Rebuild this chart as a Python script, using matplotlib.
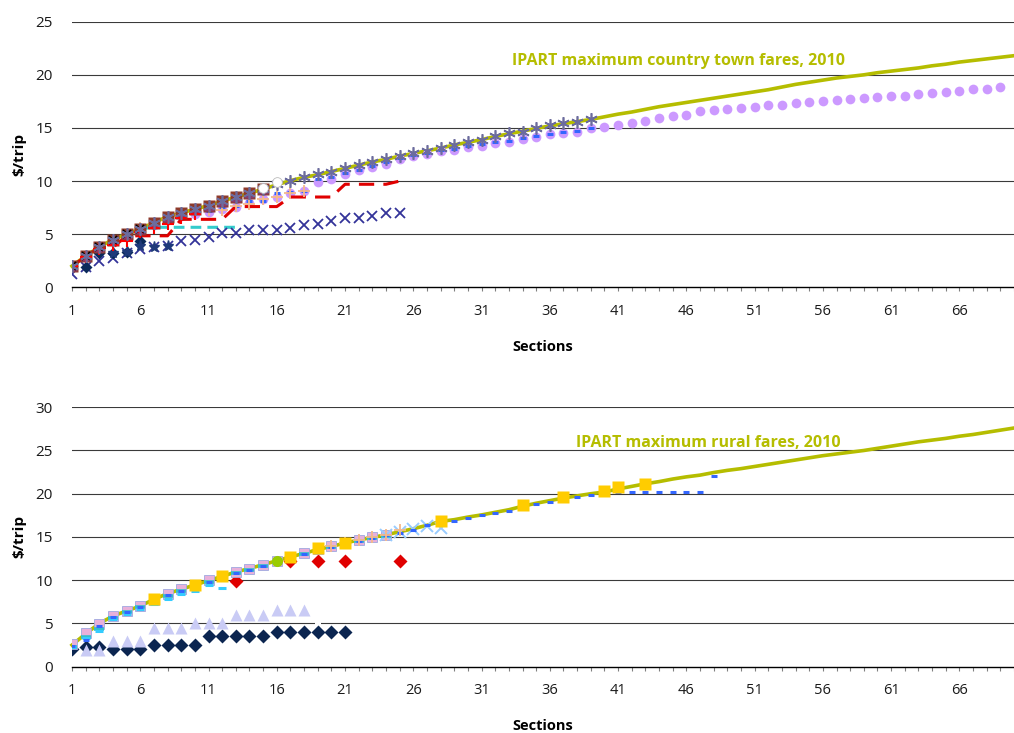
import matplotlib
matplotlib.use("Agg")
import matplotlib.pyplot as plt

plt.rcParams['font.family'] = ['Open Sans', 'DejaVu Sans']

# ---------------- top chart: country town fares ----------------
sections = list(range(1, 71))
ipart_country = [2.0, 2.95, 3.8, 4.5, 5.0, 5.5, 6.1, 6.65, 7.0, 7.35,
                 7.7, 8.1, 8.5, 8.85, 9.25, 9.65, 10.05, 10.35, 10.6, 10.9,
                 11.2, 11.5, 11.8, 12.05, 12.35, 12.6, 12.85, 13.1, 13.4, 13.65,
                 13.9, 14.2, 14.45, 14.7, 14.95, 15.2, 15.4, 15.6, 15.8, 16.05,
                 16.3, 16.5, 16.75, 17.0, 17.2, 17.4, 17.6, 17.8, 18.0, 18.2,
                 18.4, 18.6, 18.85, 19.1, 19.3, 19.5, 19.7, 19.85, 20.0, 20.2,
                 20.35, 20.5, 20.65, 20.85, 21.0, 21.2, 21.35, 21.5, 21.65, 21.8]

circle_x = list(range(6, 70))
circle_y = [5.4, 5.9, 6.3, 6.7, 6.9,
            7.1, 7.35, 7.55, 7.9, 8.3, 8.5, 8.9, 9.1, 9.95, 10.2,
            10.7, 11.0, 11.35, 11.65, 12.1, 12.4, 12.55, 12.85, 12.95, 13.2,
            13.3, 13.6, 13.7, 13.95, 14.15, 14.4, 14.5, 14.65, 14.95, 15.05,
            15.3, 15.45, 15.7, 15.9, 16.1, 16.25, 16.55, 16.7, 16.8, 16.85,
            17.0, 17.15, 17.2, 17.35, 17.4, 17.5, 17.6, 17.7, 17.8, 17.9,
            18.0, 18.05, 18.2, 18.3, 18.4, 18.5, 18.65, 18.7, 18.85]

star_x = list(range(1, 40))
star_y = [2.0, 2.95, 3.8, 4.5, 5.0, 5.5, 6.1, 6.65, 7.0, 7.4,
          7.7, 8.1, 8.5, 8.9, 9.3, 9.7, 10.05, 10.4, 10.65, 10.9,
          11.2, 11.5, 11.8, 12.1, 12.35, 12.6, 12.85, 13.15, 13.4, 13.7,
          13.85, 14.25, 14.55, 14.65, 14.95, 15.25, 15.45, 15.6, 15.8]

square_x = list(range(1, 16))
square_y = [2.05, 2.95, 3.8, 4.5, 5.0, 5.5, 6.1, 6.65, 7.0, 7.35, 7.7, 8.1, 8.5, 8.85, 9.25]
triangle_y = [2.05, 2.95, 3.8, 4.5, 5.0, 5.5, 6.1, 6.65, 7.0, 7.35, 7.7, 8.1, 8.5, 8.85, 9.25]

redplus_x = list(range(1, 11))
redplus_y = [2.0, 2.9, 3.6, 4.0, 4.4, 5.2, 5.6, 6.0, 6.5, 6.9]

reddash_x = list(range(1, 26))
reddash_y = [2.0, 2.9, 3.75, 3.75, 4.85, 4.85, 4.85, 4.85, 6.4, 6.4, 6.4, 6.4,
             7.6, 7.6, 7.6, 7.6, 8.5, 8.5, 8.5, 8.5, 9.7, 9.7, 9.7, 9.7, 10.0]

cyan_x = list(range(6, 14))
cyan_y = [5.5, 5.65, 5.65, 5.65, 5.65, 5.65, 5.65, 5.65]

navyx_x = list(range(1, 26))
navyx_y = [1.3, 1.95, 2.5, 2.75, 3.2, 3.6, 3.8, 3.9, 4.4, 4.5, 4.75, 5.1, 5.15,
           5.4, 5.4, 5.4, 5.6, 5.85, 5.95, 6.25, 6.5, 6.5, 6.7, 6.95, 7.0]

navydiam_x = list(range(1, 7))
navydiam_y = [2.0, 1.95, 3.2, 3.25, 3.3, 4.4]

navystar_x = list(range(4, 9))
navystar_y = [3.25, 3.3, 3.85, 3.8, 3.9]

bluedash_x = list(range(8, 40))
bluedash_y = [6.6, 6.9, 7.1,
              7.2, 7.45, 7.7, 8.1, 8.15, 8.9, 9.0, 9.05, 10.15, 10.35,
              10.8, 11.05, 11.4, 11.75, 12.15, 12.5, 12.6, 12.9, 13.05, 13.3,
              13.45, 13.65, 13.8, 14.05, 14.2, 14.45, 14.6, 14.7, 15.0]

peach_x = list(range(6, 19))
peach_y = [5.6, 6.0, 6.4, 6.8, 7.0, 7.25, 7.3, 7.65, 7.8, 8.3, 8.5, 8.9, 9.1]

blackx_x = list(range(1, 7))
blackx_y = [2.05, 2.95, 3.8, 4.5, 5.0, 5.5]

white_x = [15, 16]
white_y = [9.35, 9.95]

# ---------------- bottom chart: rural fares ----------------
ipart_rural = [2.5, 3.8, 5.0, 5.85, 6.45, 7.0, 7.8, 8.45, 8.95, 9.45,
               9.95, 10.45, 10.95, 11.35, 11.8, 12.25, 12.7, 13.1, 13.55, 13.9,
               14.3, 14.65, 14.95, 15.25, 15.6, 15.95, 16.35, 16.8, 17.0, 17.3,
               17.55, 17.85, 18.15, 18.55, 18.9, 19.2, 19.5, 19.75, 20.0, 20.2,
               20.55, 20.85, 21.15, 21.4, 21.7, 21.95, 22.15, 22.45, 22.7, 22.9,
               23.15, 23.4, 23.65, 23.9, 24.15, 24.4, 24.6, 24.8, 25.0, 25.25,
               25.5, 25.75, 26.0, 26.2, 26.4, 26.65, 26.85, 27.1, 27.35, 27.6]

gold_x = [7, 10, 12, 17, 19, 21, 28, 34, 37, 40, 41, 43]
gold_y = [7.8, 9.45, 10.5, 12.65, 13.7, 14.3, 16.85, 18.7, 19.6, 20.3, 20.75, 21.1]

rblue_x = list(range(1, 49))
rblue_y = [2.4, 3.1, 4.7, 5.7, 6.3, 6.9, 7.6, 8.3, 8.8, 9.3,
           9.8, 10.3, 10.8, 11.2, 11.65, 12.1, 12.55, 13.0, 13.45, 13.8,
           14.2, 14.5, 14.85, 15.2, 15.5, 15.85, 16.35, 16.6, 16.85, 17.15,
           17.5, 17.8, 18.0, 18.4, 18.8, 19.1, 19.35, 19.65, 19.9, 20.15,
           20.15, 20.15, 20.15, 20.15, 20.15, 20.15, 20.15, 22.05]

tri_x = list(range(2, 19))
tri_y = [1.95, 1.95, 3.0, 3.0, 3.0, 4.45, 4.45, 4.45, 5.1, 5.1, 5.1,
         6.0, 6.0, 6.0, 6.55, 6.55, 6.55]

rdiam_x = list(range(1, 22))
rdiam_y = [2.1, 2.25, 2.25, 2.1, 2.1, 2.1, 2.5, 2.5, 2.5, 2.5, 3.5, 3.5, 3.5,
           3.5, 3.5, 4.05, 4.05, 4.05, 4.05, 4.05, 4.05]

red_x = [13, 17, 19, 21, 25]
red_y = [9.9, 12.2, 12.25, 12.25, 12.25]

rcyan_x = list(range(1, 13))
rcyan_y = [2.3, 3.3, 4.1, 5.5, 6.1, 6.7, 7.2, 7.8, 8.35, 8.7, 9.5, 9.15]

pink_x = list(range(1, 25))
pink_y = [2.6, 3.9, 4.9, 5.85, 6.45, 7.0, 7.75, 8.45, 8.95, 9.45,
          10.0, 10.5, 11.0, 11.35, 11.8, 12.25, 12.7, 13.1, 13.55, 13.9,
          14.3, 14.65, 14.95, 15.25]

teal_x = list(range(1, 25))
teal_y = [2.3, 3.4, 4.3, 5.6, 6.3, 6.9, 7.5, 8.2, 8.7, 9.2,
          9.8, 10.3, 10.8, 11.2, 11.65, 12.1, 12.55, 13.0, 13.45, 13.8,
          14.2, 14.55, 14.85, 15.15]

lblue_x = [24, 25, 26, 27, 28]
lblue_y = [15.2, 15.55, 15.9, 16.3, 16.0]

rpeach_x = [20, 21, 22, 23, 24, 25]
rpeach_y = [13.9, 14.3, 14.65, 15.0, 15.25, 15.8]

green_x = [16]
green_y = [12.25]

rwhite_x = [19]
rwhite_y = [5.0]

OLIVE = '#B5BD00'

fig = plt.figure(figsize=(10.14, 7.33), dpi=100)
ax1 = fig.add_axes([0.0710, 0.6080, 0.9290, 0.3624])
ax2 = fig.add_axes([0.0710, 0.0905, 0.9290, 0.3539])


def style_axis(ax, ymax):
    ax.set_xlim(1, 70)
    ax.set_ylim(0, ymax)
    for side in ['top', 'right', 'left']:
        ax.spines[side].set_visible(False)
    ax.spines['bottom'].set_color('black')
    ax.spines['bottom'].set_linewidth(1.0)
    ax.set_xticks(sections)
    ax.set_xticklabels([str(s) if (s - 1) % 5 == 0 else '' for s in sections])
    ax.tick_params(axis='x', length=3, width=0.8, color='#808080',
                   labelsize=10.5, pad=9, labelcolor='#1a1a1a')
    ax.set_yticks(range(0, ymax + 1, 5))
    ax.tick_params(axis='y', length=0, labelsize=11, pad=14, labelcolor='#1a1a1a')
    for v in range(5, ymax + 1, 5):
        ax.axhline(v, color='#3a3a3a', lw=0.8, zorder=1)
    ax.set_xlabel('Sections', fontweight='bold', fontsize=10.5, labelpad=15)
    ax.set_facecolor('white')


style_axis(ax1, 25)
style_axis(ax2, 30)

# top chart series
ax1.plot(sections, ipart_country, color=OLIVE, lw=2.6, zorder=3, clip_on=False)
ax1.plot(circle_x, circle_y, 'o', color='#CC99FF', ms=7, mec='none', zorder=4)
ax1.plot(bluedash_x, bluedash_y, '_', color='#3366FF', ms=4, mew=2.2, zorder=5)
ax1.plot(reddash_x, reddash_y, color='#E00000', lw=2.2, dashes=(5, 3), zorder=5)
ax1.plot(cyan_x, cyan_y, color='#33CCCC', lw=2.2, dashes=(3.5, 2), zorder=5)
ax1.plot(navyx_x, navyx_y, 'x', color='#333399', ms=7, mew=1.3, zorder=5)
ax1.plot(navydiam_x, navydiam_y, 'D', color='#0B2A5A', ms=6, mec='none', zorder=5)
ax1.plot(navystar_x, navystar_y, '*', color='#1F3A7A', ms=8, zorder=5)
ax1.plot(peach_x, peach_y, '+', color='#F5B98A', ms=8, mew=1.3, zorder=6)
ax1.plot(square_x, square_y, 's', color='#8E3A2A', ms=8, mec='none', zorder=6)
ax1.plot(square_x, triangle_y, '^', color='#8A3A6C', ms=7, mec='none', zorder=7)
ax1.plot(redplus_x, redplus_y, '+', color='#FF0000', ms=8, mew=1.5, zorder=8)
ax1.plot(blackx_x, blackx_y, 'x', color='black', ms=6, mew=1.2, zorder=8)
ax1.plot(star_x, star_y, marker=(6, 2, 0), ls='none', color='#6C6C9E',
         ms=9, mew=1.2, zorder=8)
ax1.plot(white_x, white_y, 'o', color='white', ms=7, mec='#bbbbbb', mew=0.6, zorder=9)
ax1.text(33.2, 21.3, 'IPART maximum country town fares, 2010', color=OLIVE,
         fontweight='bold', fontsize=11.5, ha='left', va='center')

# bottom chart series
ax2.plot(sections, ipart_rural, color=OLIVE, lw=2.6, zorder=3, clip_on=False)
ax2.plot(rdiam_x, rdiam_y, 'D', color='#0B2550', ms=7, mec='none', zorder=4)
ax2.plot(tri_x, tri_y, '^', color='#C9CBF5', ms=9, mec='none', zorder=4)
ax2.plot(red_x, red_y, 'D', color='#E00000', ms=7, mec='none', zorder=5)
ax2.plot(pink_x, pink_y, 's', color='#E8B0DA', ms=7, mec='#9fa8e0', mew=0.6, zorder=5)
ax2.plot(lblue_x, lblue_y, 'x', color='#99CCFF', ms=8, mew=1.4, zorder=5)
ax2.plot(teal_x, teal_y, '_', color='#33BFCC', ms=6.5, mew=2.6, zorder=6)
ax2.plot(rcyan_x, rcyan_y, '_', color='#33CCFF', ms=6, mew=2.2, zorder=6)
ax2.plot(rblue_x, rblue_y, '_', color='#3366FF', ms=4, mew=2.2, zorder=6)
ax2.plot(green_x, green_y, 'o', color='#99CC00', ms=8, mec='none', zorder=7)
ax2.plot(rpeach_x, rpeach_y, '+', color='#F5B98A', ms=9, mew=1.3, zorder=7)
ax2.plot(gold_x, gold_y, 's', color='#FFCC00', ms=8.5, mec='none', zorder=8)
ax2.plot(rwhite_x, rwhite_y, '_', color='white', ms=5, mew=3, zorder=8)
ax2.text(37.9, 25.9, 'IPART maximum rural fares, 2010', color=OLIVE,
         fontweight='bold', fontsize=11.5, ha='left', va='center')

fig.text(19 / 1014, 1 - 154.5 / 733, '$/trip', rotation=90, fontweight='bold',
         fontsize=11, ha='center', va='center')
fig.text(19 / 1014, 1 - 537 / 733, '$/trip', rotation=90, fontweight='bold',
         fontsize=11, ha='center', va='center')

fig.savefig('out.png', dpi=100, facecolor='white')
